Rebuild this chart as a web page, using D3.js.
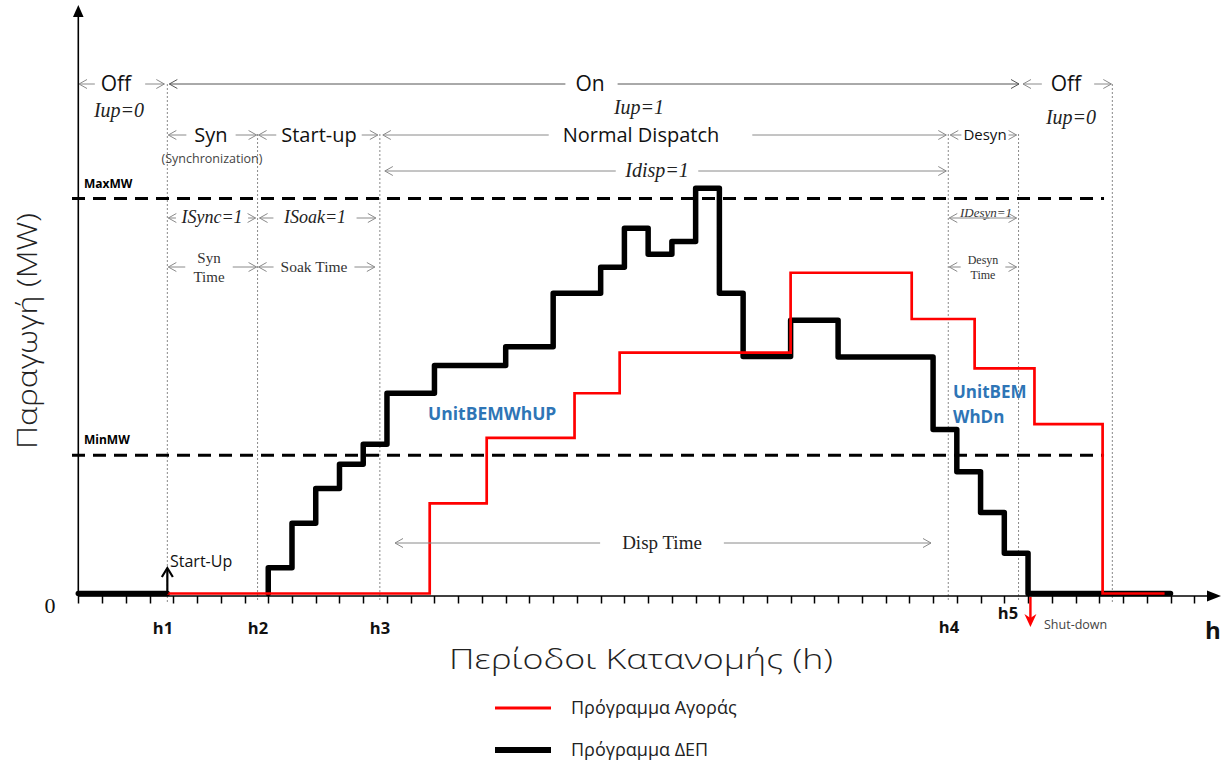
<!DOCTYPE html>
<html><head><meta charset="utf-8">
<script src="https://cdn.jsdelivr.net/npm/d3@7"></script>
<style>body{margin:0;background:#fff}</style>
</head><body>
<svg id="c" width="1225" height="760"></svg>
<script>
// ---------------- data ----------------
const tickHours = d3.range(0, 48);
const hLabels = ["h1", "h2", "h3", "h4", "h5"];
const hPositions = [3.75, 7.55, 12.7, 36.64, 39.6];
const offEndHour = 43.55;
const limitNames = ["MaxMW", "MinMW"];
const limitValues = [100, 35];
const limitEndHour = 43.2;
// Πρόγραμμα ΔΕΠ (black) – off segment and step schedule
const depOffHours = [0, 3.75];
const depHours = [8, 9, 10, 11, 12, 13, 15, 18, 20, 22, 23, 24, 25, 26, 27, 28, 30, 32, 36, 37, 38, 39, 40, 46];
const depMW    = [6.5, 17.8, 26.6, 32.7, 37.8, 50.7, 57.7, 62.5, 76.0, 82.6, 92.5, 85.9, 89.1, 102.6, 76.0, 60.0, 69.2, 59.9, 41.5, 30.8, 20.5, 10.2, 0, 0];
// Πρόγραμμα Αγοράς (red)
const marketHours = [3.75, 14.8, 17.2, 20.9, 22.8, 30, 35.1, 37.75, 40.27, 43.14, 45.75];
const marketMW    = [0, 22.8, 39.4, 50.7, 61.0, 81.2, 69.5, 57.0, 42.9, 0, 0];
const seriesNames = ["Πρόγραμμα Αγοράς", "Πρόγραμμα ΔΕΠ"];
const seriesColors = ["#ff0000", "#000000"];

// ---------------- drawing ----------------
const svg = d3.select("#c");
const x = d3.scaleLinear().domain([0, 48]).range([78.3, 1218]);
const y = d3.scaleLinear().domain([0, 100]).range([593.5, 198.5]);
const axisY = 596;
const SANS = "'Open Sans', 'Noto Sans', sans-serif";
const SERIF = "'Liberation Serif', 'DejaVu Serif', serif";

// markers
const defs = svg.append("defs");
function chevron(id, color) {
  defs.append("marker").attr("id", id)
    .attr("viewBox", "-1 -6 11 12").attr("refX", 8).attr("refY", 0)
    .attr("markerWidth", 11).attr("markerHeight", 12)
    .attr("markerUnits", "userSpaceOnUse").attr("orient", "auto-start-reverse")
    .append("path").attr("d", "M0,-4.5 L8,0 L0,4.5")
    .attr("fill", "none").attr("stroke", color).attr("stroke-width", 1);
}
chevron("cg", "#8a8a8a");
chevron("cd", "#555");

// dotted verticals
const vlines = hPositions.map((h, i) => ({h, top: i === 0 ? 84 : 134})).concat([{h: offEndHour, top: 84}]);
svg.append("g").selectAll("line").data(vlines).join("line")
  .attr("x1", d => x(d.h)).attr("x2", d => x(d.h))
  .attr("y1", d => d.top).attr("y2", 602)
  .attr("stroke", "#8a8a8a").attr("stroke-width", 1).attr("stroke-dasharray", "2,2");

// limit dashed lines
svg.append("g").selectAll("line").data(limitValues).join("line")
  .attr("x1", 72).attr("x2", x(limitEndHour))
  .attr("y1", d => y(d)).attr("y2", d => y(d))
  .attr("stroke", "#000").attr("stroke-width", 3).attr("stroke-dasharray", "13,8");
svg.append("g").selectAll("text").data(limitNames).join("text")
  .attr("x", 84).attr("y", (d, i) => y(limitValues[i]) - 11)
  .attr("font-family", SANS).attr("font-weight", "bold").attr("font-size", 12)
  .text(d => d);

// x axis ticks
svg.append("g").selectAll("line.tk").data(tickHours).join("line").attr("class", "tk")
  .attr("x1", d => Math.round(x(d)) + 0.5).attr("x2", d => Math.round(x(d)) + 0.5)
  .attr("y1", axisY).attr("y2", axisY + 7.5)
  .attr("stroke", "#000").attr("stroke-width", 1.5);

// series
const stepLine = d3.line().x(d => x(d[0])).y(d => y(d[1])).curve(d3.curveStepAfter);
const depPts = [[depHours[0], 0]].concat(depHours.map((h, i) => [h, depMW[i]]));
const blackG = svg.append("g").attr("fill", "none").attr("stroke", seriesColors[1])
  .attr("stroke-width", 5.5).attr("stroke-linejoin", "round").attr("stroke-linecap", "round");
blackG.append("path").attr("d", stepLine(depOffHours.map(h => [h, 0])));
blackG.append("path").attr("d", stepLine(depPts));
svg.append("path").attr("d", stepLine(marketHours.map((h, i) => [h, marketMW[i]])))
  .attr("fill", "none").attr("stroke", seriesColors[0]).attr("stroke-width", 2.7);

// axes lines with arrows
svg.append("line").attr("x1", 78.3).attr("x2", 1210).attr("y1", axisY).attr("y2", axisY)
  .attr("stroke", "#000").attr("stroke-width", 1.6);
svg.append("path").attr("d", `M1221,${axisY} L1207,${axisY - 5.5} L1207,${axisY + 5.5}Z`).attr("fill", "#000");
svg.append("line").attr("x1", 78.3).attr("x2", 78.3).attr("y1", axisY).attr("y2", 14)
  .attr("stroke", "#000").attr("stroke-width", 1.6);
svg.append("path").attr("d", "M78.3,5 L73,17 L83.6,17Z").attr("fill", "#000");

// annotation spans
function span(x1, x2, yy, lines, o) {
  const g = svg.append("g");
  const t = g.append("text").attr("text-anchor", "middle")
    .attr("font-family", o.font || SANS).attr("font-size", o.size)
    .attr("font-style", o.italic ? "italic" : "normal")
    .attr("fill", o.color || "#111");
  const lh = o.lh || o.size;
  lines.forEach((s, i) => t.append("tspan").attr("x", o.cx).attr("y", yy + o.dy + (i - (lines.length - 1) / 2) * lh).text(s));
  const w = t.node().getBBox().width;
  const gap = o.gap === undefined ? 6 : o.gap;
  const gapR = o.gapR === undefined ? gap : o.gapR;
  const mk = o.mk || "cg";
  const lc = o.lc || "#8a8a8a";
  g.append("line").attr("x1", o.cx - w / 2 - gap).attr("x2", x1).attr("y1", yy).attr("y2", yy)
    .attr("stroke", lc).attr("stroke-width", 1).attr("marker-end", `url(#${mk})`);
  g.append("line").attr("x1", o.cx + w / 2 + gapR).attr("x2", x2).attr("y1", yy).attr("y2", yy)
    .attr("stroke", lc).attr("stroke-width", 1).attr("marker-end", `url(#${mk})`);
}
const H = hPositions.map(h => x(h));
const OE = x(offEndHour);
// row 1
span(79, H[0] - 3, 84, ["Off"], {cx: 116, size: 21, dy: 7, gap: 5, gapR: 13});
span(H[0] + 2, 1019, 84, ["On"], {cx: 590, size: 21, dy: 7, gap: 10, gapR: 13, mk: "cd", lc: "#555"});
span(1023, OE - 1, 84, ["Off"], {cx: 1066, size: 21, dy: 7, gap: 8, gapR: 12});
// Iup labels
svg.append("text").attr("x", 119).attr("y", 117).attr("text-anchor", "middle").attr("font-family", SERIF)
  .attr("font-style", "italic").attr("font-size", 20).attr("fill", "#222").text("Iup=0");
svg.append("text").attr("x", 639).attr("y", 114).attr("text-anchor", "middle").attr("font-family", SERIF)
  .attr("font-style", "italic").attr("font-size", 20).attr("fill", "#222").text("Iup=1");
svg.append("text").attr("x", 1071).attr("y", 124).attr("text-anchor", "middle").attr("font-family", SERIF)
  .attr("font-style", "italic").attr("font-size", 20).attr("fill", "#222").text("Iup=0");
// row 3
span(H[0] + 1, H[1] - 1, 135, ["Syn"], {cx: 211, size: 20, dy: 7, gap: 8});
span(H[1] + 1, H[2] - 2, 135, ["Start-up"], {cx: 319, size: 20, dy: 7, gap: 5});
span(H[2] + 3, H[3] - 2, 135, ["Normal Dispatch"], {cx: 641, size: 20, dy: 7, gap: 14, gapR: 33});
span(H[3] + 2, H[4] - 2, 135, ["Desyn"], {cx: 985, size: 15, dy: 5, gap: 2});
svg.append("text").attr("x", 212).attr("y", 163).attr("text-anchor", "middle").attr("font-family", SANS)
  .attr("font-size", 12.5).attr("fill", "#444").text("(Synchronization)");
// row 4
span(H[2] + 5, H[3] - 2, 171, ["Idisp=1"], {cx: 657, size: 20, dy: 6, gap: 9, font: SERIF, italic: true, color: "#222"});
// row 5
span(H[0] + 1, H[1] - 2, 218, ["ISync=1"], {cx: 212, size: 18, dy: 5, gap: 5, font: SERIF, italic: true, color: "#222"});
span(H[1] + 2, H[2] - 4, 218, ["ISoak=1"], {cx: 315, size: 18, dy: 5, gap: 10, font: SERIF, italic: true, color: "#222"});
span(H[3] + 1, H[4] - 2, 218, ["IDesyn=1"], {cx: 986, size: 13, dy: -1, gap: -30, font: SERIF, italic: true, color: "#333"});
// row 6
span(H[0] + 1, H[1] - 1, 267, ["Syn", "Time"], {cx: 209, size: 15, lh: 19, dy: 5, gap: 8, font: SERIF, color: "#333"});
span(H[1] + 1, H[2] - 5, 267, ["Soak Time"], {cx: 314, size: 15.5, dy: 5, gap: 7, font: SERIF, color: "#333"});
span(H[3] + 1, H[4] - 2, 267, ["Desyn", "Time"], {cx: 983, size: 12, lh: 15, dy: 4, gap: 7, font: SERIF, color: "#333"});
// disp time
span(395, 931, 543, ["Disp Time"], {cx: 662, size: 19, dy: 6, gap: 22, font: SERIF, color: "#222"});

// blue labels
const BLUE = "#2e75b6";
svg.append("text").attr("x", 428).attr("y", 420).attr("font-family", SANS).attr("font-weight", "bold")
  .attr("font-size", 17.5).attr("fill", BLUE).text("UnitBEMWhUP");
svg.append("text").attr("x", 953).attr("y", 398).attr("font-family", SANS).attr("font-weight", "bold")
  .attr("font-size", 17).attr("fill", BLUE).text("UnitBEM");
svg.append("text").attr("x", 953).attr("y", 423).attr("font-family", SANS).attr("font-weight", "bold")
  .attr("font-size", 17).attr("fill", BLUE).text("WhDn");

// start-up arrow
svg.append("line").attr("x1", H[0]).attr("x2", H[0]).attr("y1", 594).attr("y2", 569)
  .attr("stroke", "#000").attr("stroke-width", 2.2);
svg.append("path").attr("d", `M${H[0] - 5.5},${577} L${H[0]},${568} L${H[0] + 5.5},${577}`)
  .attr("fill", "none").attr("stroke", "#000").attr("stroke-width", 2.2);
svg.append("text").attr("x", 170).attr("y", 567).attr("font-family", SANS).attr("font-size", 16)
  .attr("fill", "#111").text("Start-Up");
// shut-down arrow
const xs = x(40.1);
svg.append("line").attr("x1", xs).attr("x2", xs).attr("y1", 597).attr("y2", 620)
  .attr("stroke", "#ff0000").attr("stroke-width", 2.4);
svg.append("path").attr("d", `M${xs - 6},${614} L${xs},${627} L${xs + 6},${614} L${xs},${618}Z`).attr("fill", "#ff0000");
svg.append("text").attr("x", 1044).attr("y", 629).attr("font-family", SANS).attr("font-size", 12.5)
  .attr("fill", "#444").text("Shut-down");

// h labels
const hLabelPos = [[163, 634], [258, 634], [380, 634], [949, 633], [1008, 619]];
svg.append("g").selectAll("text").data(hLabels).join("text")
  .attr("x", (d, i) => hLabelPos[i][0]).attr("y", (d, i) => hLabelPos[i][1])
  .attr("text-anchor", "middle").attr("font-family", SANS).attr("font-weight", "bold")
  .attr("font-size", 16.5).attr("fill", "#111").text(d => d);
svg.append("text").attr("x", 1213).attr("y", 639).attr("text-anchor", "middle").attr("font-family", SANS)
  .attr("font-weight", "bold").attr("font-size", 24).attr("fill", "#111").text("h");
svg.append("text").attr("x", 50).attr("y", 613).attr("text-anchor", "middle").attr("font-family", SERIF)
  .attr("font-size", 22).attr("fill", "#111").text("0");

// axis titles
svg.append("text").attr("x", 641).attr("y", 669).attr("text-anchor", "middle").attr("font-family", SANS)
  .attr("font-weight", 300).attr("font-size", 28).attr("fill", "#222")
  .attr("textLength", 384).attr("lengthAdjust", "spacingAndGlyphs").text("Περίοδοι Κατανομής (h)");
svg.append("text").attr("transform", "translate(37,331) rotate(-90)").attr("text-anchor", "middle")
  .attr("font-family", SANS).attr("font-weight", 300).attr("font-size", 28).attr("fill", "#222")
  .attr("textLength", 236).attr("lengthAdjust", "spacingAndGlyphs").text("Παραγωγή (MW)");

// legend
const lg = svg.append("g").selectAll("g").data(seriesNames).join("g")
  .attr("transform", (d, i) => `translate(495,${708 + i * 42})`);
lg.append("line").attr("x1", 0).attr("x2", 56).attr("stroke", (d, i) => seriesColors[i])
  .attr("stroke-width", (d, i) => i ? 6 : 3);
lg.append("text").attr("x", 76).attr("y", 6).attr("font-family", SANS).attr("font-size", 18)
  .attr("fill", "#222").text(d => d);
</script>
</body></html>
